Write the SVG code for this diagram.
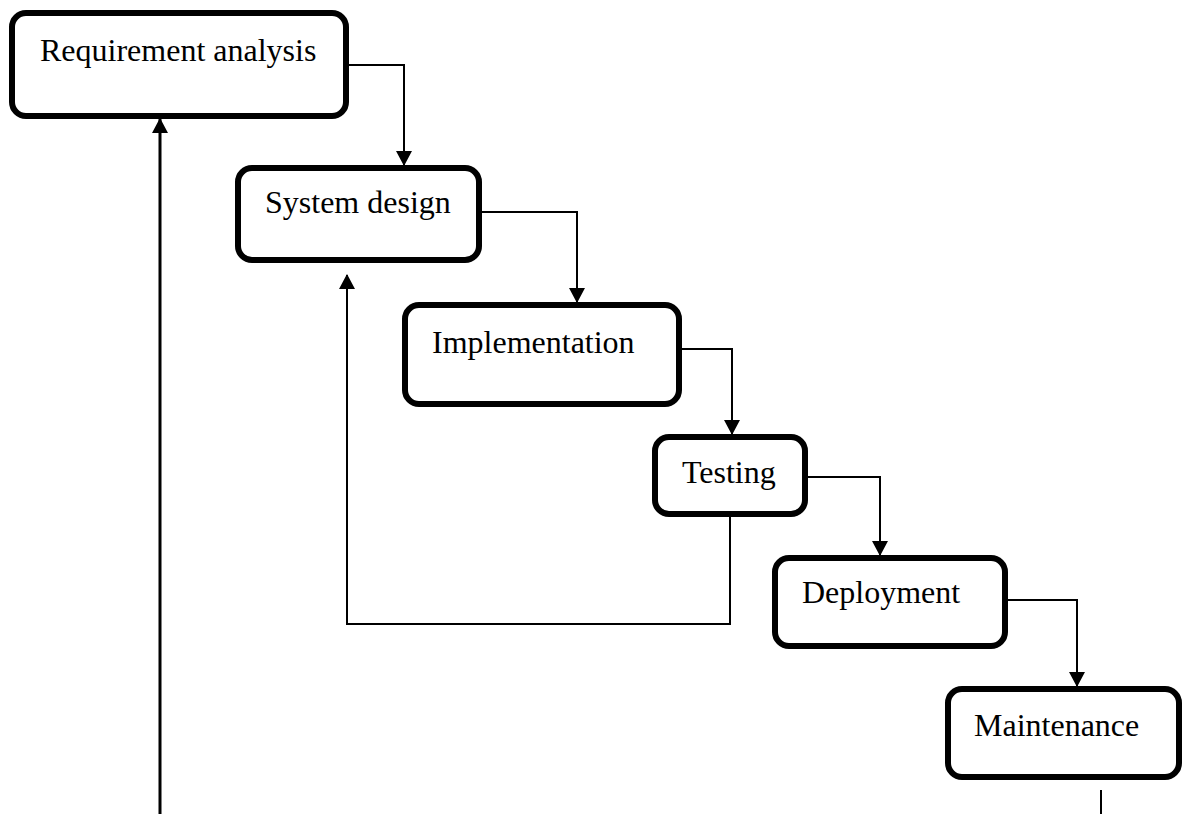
<svg xmlns="http://www.w3.org/2000/svg" width="1183" height="814" viewBox="0 0 1183 814">
<style>
.box{fill:#fff;stroke:#000;stroke-width:6}
.lbl{font-family:"Liberation Serif","Times New Roman",serif;font-size:32px;fill:#000}
.c{fill:none;stroke:#000;stroke-width:2}
</style>
<defs>
<marker id="ah" markerUnits="userSpaceOnUse" markerWidth="15" markerHeight="16" refX="14" refY="8" orient="auto" viewBox="0 0 15 16">
<path d="M0,0 L15,8 L0,16 z" fill="#000"/>
</marker>
</defs>
<rect width="1183" height="814" fill="#fff"/>
<g id="connectors">
<path class="c" d="M349,65 H404 V165" marker-end="url(#ah)"/>
<path class="c" d="M482,212 H577 V302" marker-end="url(#ah)"/>
<path class="c" d="M682,349 H732 V434" marker-end="url(#ah)"/>
<path class="c" d="M808,477 H880 V555" marker-end="url(#ah)"/>
<path class="c" d="M1008,600 H1077 V686" marker-end="url(#ah)"/>
<path class="c" d="M730,517 V624 H347 V275" marker-end="url(#ah)"/>
<path class="c" style="stroke-width:3" d="M160,814 V119" marker-end="url(#ah)"/>
<path class="c" d="M1101,790 V814"/>
</g>
<g id="requirement-analysis">
<rect class="box" x="12" y="13" width="334" height="103" rx="14"/>
<text class="lbl" x="40" y="61">Requirement analysis</text>
</g>
<g id="system-design">
<rect class="box" x="238" y="168" width="241" height="92" rx="14"/>
<text class="lbl" x="265" y="213">System design</text>
</g>
<g id="implementation">
<rect class="box" x="405" y="305" width="274" height="99" rx="14"/>
<text class="lbl" x="432" y="353">Implementation</text>
</g>
<g id="testing">
<rect class="box" x="655" y="437" width="150" height="77" rx="14"/>
<text class="lbl" x="682" y="483">Testing</text>
</g>
<g id="deployment">
<rect class="box" x="775" y="558" width="230" height="88" rx="14"/>
<text class="lbl" x="802" y="603">Deployment</text>
</g>
<g id="maintenance">
<rect class="box" x="948" y="689" width="231" height="88" rx="14"/>
<text class="lbl" x="974" y="736">Maintenance</text>
</g>
</svg>
